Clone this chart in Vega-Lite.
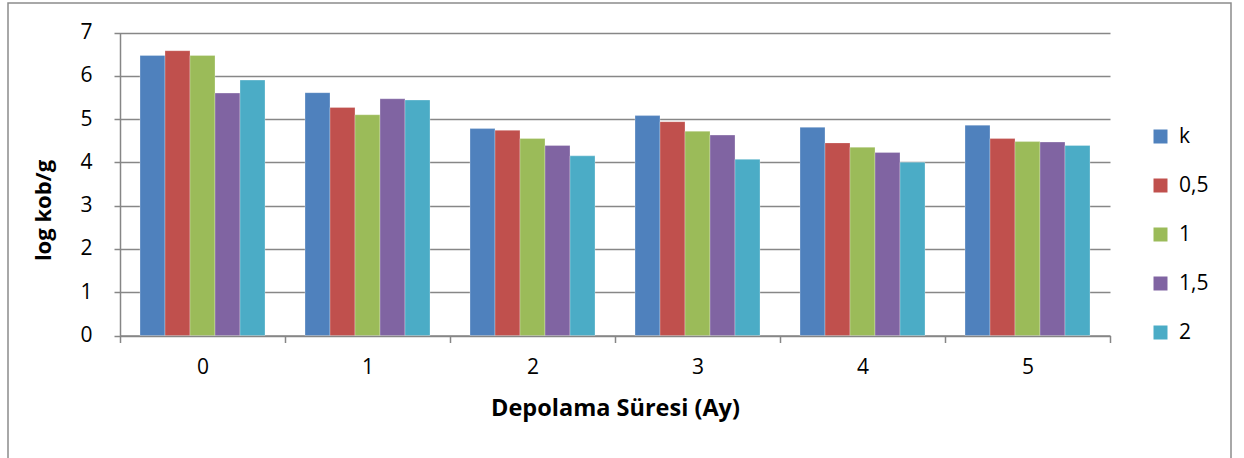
{
  "$schema": "https://vega.github.io/schema/vega-lite/v6.json",
  "width": 1223,
  "height": 460,
  "autosize": "none",
  "padding": {"left": 8, "top": 3, "right": 13, "bottom": 0},
  "background": "white",
  "config": {
    "font": "Open Sans",
    "view": {"stroke": "#8c8c8c", "strokeWidth": 1.5},
    "axis": {
      "domainColor": "#868686",
      "domainWidth": 1.5,
      "tickColor": "#868686",
      "tickWidth": 1.5,
      "labelColor": "#000000",
      "labelFont": "Open Sans",
      "labelFontSize": 21,
      "labelOverlap": false,
      "titleColor": "#000000",
      "titleFont": "Open Sans",
      "titleFontSize": 22,
      "titleFontWeight": "bold"
    }
  },
  "data": {
    "values": [
      {"ay": "0", "doz": "k", "log": 6.47},
      {"ay": "0", "doz": "0,5", "log": 6.58},
      {"ay": "0", "doz": "1", "log": 6.47},
      {"ay": "0", "doz": "1,5", "log": 5.60},
      {"ay": "0", "doz": "2", "log": 5.90},
      {"ay": "1", "doz": "k", "log": 5.61},
      {"ay": "1", "doz": "0,5", "log": 5.27},
      {"ay": "1", "doz": "1", "log": 5.10},
      {"ay": "1", "doz": "1,5", "log": 5.47},
      {"ay": "1", "doz": "2", "log": 5.44},
      {"ay": "2", "doz": "k", "log": 4.78},
      {"ay": "2", "doz": "0,5", "log": 4.74},
      {"ay": "2", "doz": "1", "log": 4.55},
      {"ay": "2", "doz": "1,5", "log": 4.39},
      {"ay": "2", "doz": "2", "log": 4.15},
      {"ay": "3", "doz": "k", "log": 5.08},
      {"ay": "3", "doz": "0,5", "log": 4.94},
      {"ay": "3", "doz": "1", "log": 4.72},
      {"ay": "3", "doz": "1,5", "log": 4.63},
      {"ay": "3", "doz": "2", "log": 4.07},
      {"ay": "4", "doz": "k", "log": 4.81},
      {"ay": "4", "doz": "0,5", "log": 4.45},
      {"ay": "4", "doz": "1", "log": 4.35},
      {"ay": "4", "doz": "1,5", "log": 4.23},
      {"ay": "4", "doz": "2", "log": 4.00},
      {"ay": "5", "doz": "k", "log": 4.86},
      {"ay": "5", "doz": "0,5", "log": 4.55},
      {"ay": "5", "doz": "1", "log": 4.48},
      {"ay": "5", "doz": "1,5", "log": 4.47},
      {"ay": "5", "doz": "2", "log": 4.39}
    ]
  },
  "mark": {"type": "bar", "stroke": "white", "strokeOpacity": 0.35, "strokeWidth": 0.8},
  "encoding": {
    "x": {
      "field": "ay",
      "type": "nominal",
      "sort": null,
      "scale": {"range": [112, 1102], "paddingInner": 0, "paddingOuter": 0},
      "axis": {
        "title": "Depolama Süresi (Ay)",
        "titleFontSize": 23.5,
        "labelAngle": 0,
        "tickBand": "extent",
        "tickSize": 7,
        "labelPadding": 14,
        "titlePadding": 19,
        "offset": -127.5
      }
    },
    "xOffset": {
      "field": "doz",
      "type": "nominal",
      "sort": ["k", "0,5", "1", "1,5", "2"],
      "scale": {"paddingInner": 0, "paddingOuter": 0.8}
    },
    "y": {
      "field": "log",
      "type": "quantitative",
      "scale": {"domain": [0, 7], "range": [332.5, 29.5], "nice": false},
      "axis": {
        "title": "log kob/g",
        "titleY": 207,
        "values": [0, 1, 2, 3, 4, 5, 6, 7],
        "grid": true,
        "gridColor": "#878787",
        "gridWidth": 1.5,
        "tickSize": 6,
        "labelPadding": 22,
        "titlePadding": 24,
        "offset": -112
      }
    },
    "color": {
      "field": "doz",
      "type": "nominal",
      "sort": ["k", "0,5", "1", "1,5", "2"],
      "scale": {
        "domain": ["k", "0,5", "1", "1,5", "2"],
        "range": ["#4F81BD", "#C0504D", "#9BBB59", "#8064A2", "#4BACC6"]
      },
      "legend": {
        "title": null,
        "orient": "none",
        "legendX": 1142,
        "legendY": 123,
        "padding": 0,
        "symbolType": "square",
        "symbolSize": 196,
        "symbolStrokeWidth": 0,
        "labelFont": "Open Sans",
        "labelFontSize": 21,
        "labelColor": "#000000",
        "labelOffset": 8,
        "rowPadding": 27
      }
    }
  }
}
